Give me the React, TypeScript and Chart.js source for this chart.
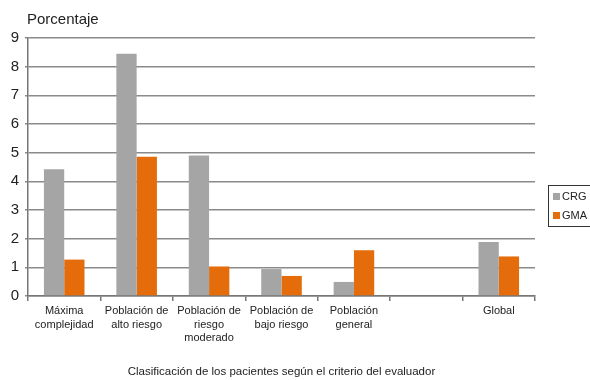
import React, { useEffect, useRef } from "react";
import { Chart, registerables } from "chart.js";
Chart.register(...registerables);

const categories: (string | string[])[] = [
  ["Máxima", "complejidad"],
  ["Población de", "alto riesgo"],
  ["Población de", "riesgo", "moderado"],
  ["Población de", "bajo riesgo"],
  ["Población", "general"],
  "",
  "Global",
];
const crgValues: (number | null)[] = [4.42, 8.45, 4.9, 0.94, 0.49, null, 1.88];
const gmaValues: (number | null)[] = [1.27, 4.86, 1.03, 0.7, 1.6, null, 1.38];
const seriesNames = ["CRG", "GMA"];
const colors = ["#a5a5a5", "#e46c0a"];
const yTitle = "Porcentaje";
const xTitle = "Clasificación de los pacientes según el criterio del evaluador";

const FONT = "'Liberation Sans', Arial, Helvetica, sans-serif";

export default function App() {
  const ref = useRef<HTMLCanvasElement | null>(null);
  useEffect(() => {
    if (!ref.current) return;
    const chart = new Chart(ref.current, {
      type: "bar",
      data: {
        labels: categories,
        datasets: [
          { label: seriesNames[0], data: crgValues, backgroundColor: colors[0] },
          { label: seriesNames[1], data: gmaValues, backgroundColor: colors[1] },
        ],
      },
      options: {
        animation: false,
        responsive: false,
        maintainAspectRatio: false,
        layout: { padding: { top: 38, right: 55, left: 0, bottom: 0 } },
        plugins: { legend: { display: false }, tooltip: { enabled: false } },
        datasets: { bar: { categoryPercentage: 0.56, barPercentage: 1 } },
        scales: {
          x: {
            offset: true,
            grid: {
              offset: true,
              drawOnChartArea: false,
              drawTicks: true,
              tickLength: 5,
              color: "#777",
              lineWidth: 1.5,
            },
            border: { color: "#777", width: 1.5 },
            ticks: {
              color: "#222",
              font: { family: FONT, size: 11, lineHeight: 1.25 },
              padding: 3,
              maxRotation: 0,
              autoSkip: false,
            },
            title: {
              display: true,
              text: xTitle,
              color: "#222",
              font: { family: FONT, size: 11.5 },
              padding: { top: 0, bottom: 1 },
            },
            afterFit: (s: any) => {
              s.height = 84;
            },
          },
          y: {
            min: 0,
            max: 9,
            ticks: {
              stepSize: 1,
              color: "#222",
              font: { family: FONT, size: 15 },
              padding: 6,
            },
            grid: { color: "#8a8a8a", lineWidth: 1.5, tickLength: 3 },
            border: { color: "#777", width: 1.5 },
            afterFit: (s: any) => {
              s.width = 28;
            },
          },
        },
      },
    });
    return () => chart.destroy();
  }, []);

  return (
    <div style={{ position: "fixed", left: 0, top: 0, width: 590, height: 380, background: "#fff", fontFamily: FONT }}>
      <canvas ref={ref} width={590} height={380} style={{ position: "absolute", left: 0, top: 0 }} />
      <div style={{ position: "absolute", left: 27, top: 10, fontSize: 15, color: "#222" }}>{yTitle}</div>
      <div
        style={{
          position: "absolute",
          left: 548,
          top: 185,
          width: 48,
          height: 42,
          border: "1.5px solid #333",
          boxSizing: "border-box",
          fontSize: 11,
          color: "#222",
        }}
      >
        {seriesNames.map((n, i) => (
          <div key={n} style={{ position: "absolute", left: 4, top: 4, transform: `translateY(${i * 19}px)`, display: "flex", alignItems: "center" }}>
            <span style={{ display: "inline-block", width: 7, height: 7, background: colors[i], marginRight: 2 }} />
            <span>{n}</span>
          </div>
        ))}
      </div>
    </div>
  );
}
